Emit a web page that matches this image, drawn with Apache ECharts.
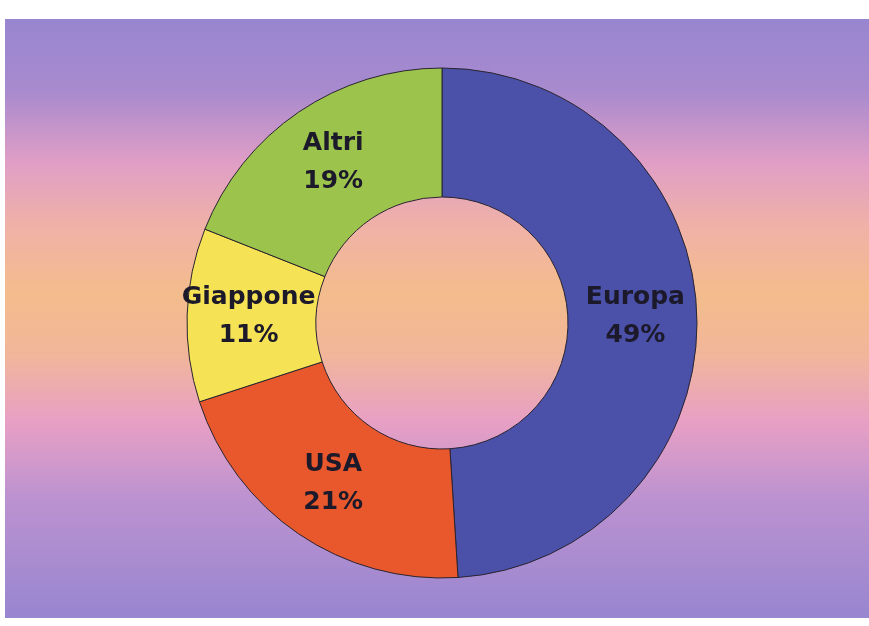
<!DOCTYPE html>
<html>
<head>
<meta charset="utf-8">
<script src="https://cdn.jsdelivr.net/npm/echarts@6/dist/echarts.min.js"></script>
<style>
html,body{margin:0;padding:0;background:#ffffff;}
#chart{width:869px;height:626px;}
</style>
</head>
<body>
<div id="chart"></div>
<script>
var categories = ['Europa', 'USA', 'Giappone', 'Altri'];
var values = [49, 21, 11, 19];
var colors = ['#4b50a8', '#e8582c', '#f6e255', '#9cc34c'];

var chart = echarts.init(document.getElementById('chart'));
chart.setOption({
  backgroundColor: '#ffffff',
  animation: false,
  graphic: [{
    type: 'rect',
    z: -10,
    shape: {x: 5, y: 19, width: 864, height: 599},
    style: {
      fill: new echarts.graphic.LinearGradient(0, 0, 0, 1, [
        {offset: 0.00, color: '#9886d0'},
        {offset: 0.12, color: '#a88ace'},
        {offset: 0.24, color: '#e09ec6'},
        {offset: 0.35, color: '#f0b2a6'},
        {offset: 0.46, color: '#f3bc8c'},
        {offset: 0.56, color: '#f1b69a'},
        {offset: 0.67, color: '#e8a0c4'},
        {offset: 0.80, color: '#bc92d0'},
        {offset: 1.00, color: '#9886d0'}
      ])
    }
  }],
  series: [{
    type: 'pie',
    center: [442, 323],
    radius: [126, 255],
    startAngle: 90,
    clockwise: true,
    avoidLabelOverlap: false,
    data: categories.map(function (c, i) {
      return {name: c, value: values[i], itemStyle: {color: colors[i]}};
    }),
    itemStyle: {borderColor: '#2a2430', borderWidth: 1},
    label: {
      show: true,
      position: 'inside',
      formatter: '{b}\n{c}%',
      color: '#1c1a2a',
      fontFamily: 'DejaVu Sans',
      fontWeight: 'bold',
      fontSize: 25,
      lineHeight: 38,
      textBorderWidth: 0
    },
    labelLine: {show: false},
    emphasis: {disabled: true}
  }]
});
</script>
</body>
</html>
